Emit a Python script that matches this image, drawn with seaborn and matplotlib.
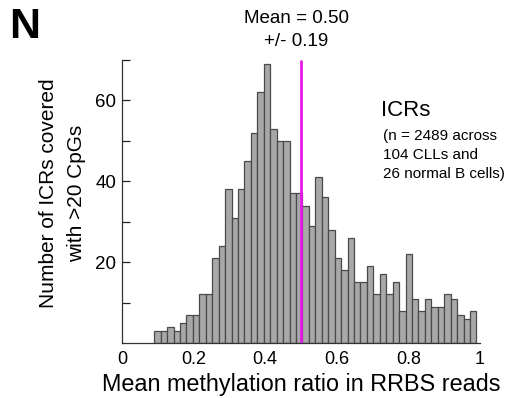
import matplotlib
matplotlib.use("Agg")
import matplotlib.pyplot as plt
import seaborn as sns
import numpy as np
import pandas as pd

# ---- data ----
bin_start = 0.09
bin_width = 0.018
counts = [3, 3, 4, 3, 5, 7, 7, 12, 12, 21,
          24, 38, 31, 38, 45, 52, 62, 69, 53, 50,
          50, 37, 37, 34, 29, 41, 36, 28, 21, 18,
          26, 15, 15, 19, 12, 17, 12, 15, 8, 22,
          11, 8, 11, 9, 9, 12, 11, 7, 6, 8]
mean_value = 0.50
sd_value = 0.19
x_ticks = [0, 0.2, 0.4, 0.6, 0.8, 1]
x_tick_labels = ["0", "0.2", "0.4", "0.6", "0.8", "1"]
y_ticks = [20, 40, 60]

sns.set_style("white")
plt.rcParams['font.family'] = ['Liberation Sans', 'DejaVu Sans']
plt.rcParams['text.color'] = 'black'
plt.rcParams['axes.labelcolor'] = 'black'
plt.rcParams['xtick.color'] = 'black'
plt.rcParams['ytick.color'] = 'black'

edges = bin_start + bin_width * np.arange(len(counts) + 1)
centers = (edges[:-1] + edges[1:]) / 2
df = pd.DataFrame({"ratio": centers, "count": counts})

fig = plt.figure(figsize=(5.27, 3.98), dpi=100)
ax = fig.add_axes([122/527, 1 - 343/398, (480-122)/527, (343-60)/398])

sns.histplot(data=df, x="ratio", weights="count", bins=list(edges), ax=ax,
             color="#a8a8a8", edgecolor="#4a4a4a", linewidth=0.9, alpha=1.0)

ax.axvline(mean_value, ymin=0, ymax=0.995, color="#e619e6", linewidth=2.0, zorder=5)

ax.set_xlim(0, 1)
ax.set_ylim(0, 70)
ax.set_xticks(x_ticks)
ax.set_xticklabels(x_tick_labels, fontsize=13)
ax.set_yticks(y_ticks)
ax.set_yticks([10, 30, 50, 70], minor=True)
ax.tick_params(axis='y', which='both', direction='in', length=6, width=0.9,
               colors='#222222', labelsize=13.5, left=True, pad=4)
ax.tick_params(axis='y', which='major', labelcolor='black')
ax.tick_params(axis='x', which='major', length=0, labelsize=13, pad=6)
ax.set_xticks([1], minor=True)
ax.tick_params(axis='x', which='minor', direction='in', length=4, width=0.9, bottom=True)

for s in ['top', 'right']:
    ax.spines[s].set_visible(False)
for s in ['left', 'bottom']:
    ax.spines[s].set_color('#333333')
    ax.spines[s].set_linewidth(0.9)

ax.set_xlabel("Mean methylation ratio in RRBS reads", fontsize=16.8, labelpad=3)
ax.set_ylabel("Number of ICRs covered\nwith >20 CpGs", fontsize=15, linespacing=1.6)
ax.yaxis.set_label_coords(-0.10, 0.53)

fig.text(9/527, 1 - 27/398, "N", fontsize=31, fontweight='bold', va='center', ha='left')
fig.text(296/527, 1 - 30/398, f"Mean = {mean_value:.2f}\n+/- {sd_value:.2f}",
         fontsize=13.5, ha='center', va='center', linespacing=1.4)
fig.text(381/527, 1 - 111/398, "ICRs", fontsize=16, ha='left', va='center')
fig.text(383/527, 1 - 155/398, "(n = 2489 across\n104 CLLs and\n26 normal B cells)",
         fontsize=11, ha='left', va='center', linespacing=1.45)

fig.savefig("out.png", dpi=100)
